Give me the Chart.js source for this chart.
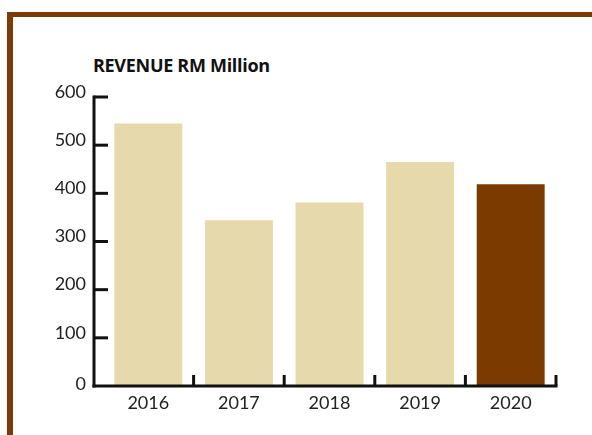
<!DOCTYPE html>
<html>
<head>
<meta charset="utf-8">
<script src="https://cdn.jsdelivr.net/npm/chart.js@4/dist/chart.umd.min.js"></script>
<style>
  html, body { margin: 0; padding: 0; background: #fff; }
  #wrap { position: relative; width: 592px; height: 435px; overflow: hidden; }
  #frame { position: absolute; left: 7px; top: 12px; width: 600px; height: 440px;
           border-top: 5px solid #7B3A06; border-left: 6px solid #7B3A06; box-sizing: border-box; }
  #title { position: absolute; left: 93px; top: 56px; font: bold 18px/18px "Open Sans", "Lato", sans-serif;
           color: #111; letter-spacing: -0.3px; white-space: nowrap; }
  canvas { position: absolute; left: 0; top: 0; }
</style>
</head>
<body>
<div id="wrap">
  <div id="frame"></div>
  <div id="title">REVENUE RM Million</div>
  <canvas id="c" width="592" height="435"></canvas>
</div>
<script>
const categories = ["2016", "2017", "2018", "2019", "2020"];
const revenue = [545, 344, 381, 465, 419];
const yTicks = [0, 100, 200, 300, 400, 500, 600];
const barColors = ["#E6D9AC", "#E6D9AC", "#E6D9AC", "#E6D9AC", "#7B3A00"];

const axisPlugin = {
  id: 'customAxes',
  afterDatasetsDraw(chart) {
    const ctx = chart.ctx;
    const x = chart.scales.x, y = chart.scales.y;
    const axisX = 94;
    const y0 = y.getPixelForValue(0);
    const yTop = y.getPixelForValue(600);
    ctx.save();
    ctx.strokeStyle = '#111';
    ctx.lineWidth = 3;
    ctx.lineCap = 'butt';
    ctx.beginPath();
    ctx.moveTo(axisX, yTop - 1.5);
    ctx.lineTo(axisX, y0 + 1.5);
    ctx.stroke();
    ctx.font = '18px Lato, sans-serif';
    ctx.fillStyle = '#222';
    ctx.textAlign = 'right';
    ctx.textBaseline = 'middle';
    yTicks.forEach(v => {
      const py = y.getPixelForValue(v);
      if (v > 0) {
        ctx.beginPath();
        ctx.moveTo(axisX, py);
        ctx.lineTo(axisX + 14, py);
        ctx.stroke();
      }
      const off = v === 0 ? -2 : -5;
      ctx.fillText(String(v), 86, py + off);
    });
    const step = x.getPixelForValue(1) - x.getPixelForValue(0);
    const xRight = x.getPixelForValue(categories.length - 1) + step / 2;
    ctx.beginPath();
    ctx.moveTo(axisX - 1.5, y0);
    ctx.lineTo(xRight + 1.5, y0);
    ctx.stroke();
    for (let i = 0; i < categories.length; i++) {
      const px = x.getPixelForValue(i) + step / 2;
      ctx.beginPath();
      ctx.moveTo(px, y0);
      ctx.lineTo(px, y0 - 11);
      ctx.stroke();
    }
    ctx.textAlign = 'center';
    ctx.textBaseline = 'alphabetic';
    categories.forEach((c, i) => {
      ctx.fillText(c, x.getPixelForValue(i), y0 + 23);
    });
    ctx.restore();
  }
};

new Chart(document.getElementById('c'), {
  type: 'bar',
  data: {
    labels: categories,
    datasets: [{
      data: revenue,
      backgroundColor: barColors,
      borderWidth: 0,
      categoryPercentage: 1.0,
      barPercentage: 0.75
    }]
  },
  options: {
    responsive: false,
    animation: false,
    layout: { padding: { left: 103, right: 36, top: 97, bottom: 49 } },
    plugins: { legend: { display: false }, tooltip: { enabled: false }, title: { display: false } },
    scales: {
      x: { display: false },
      y: { display: false, min: 0, max: 600 }
    }
  },
  plugins: [axisPlugin]
});
</script>
</body>
</html>
